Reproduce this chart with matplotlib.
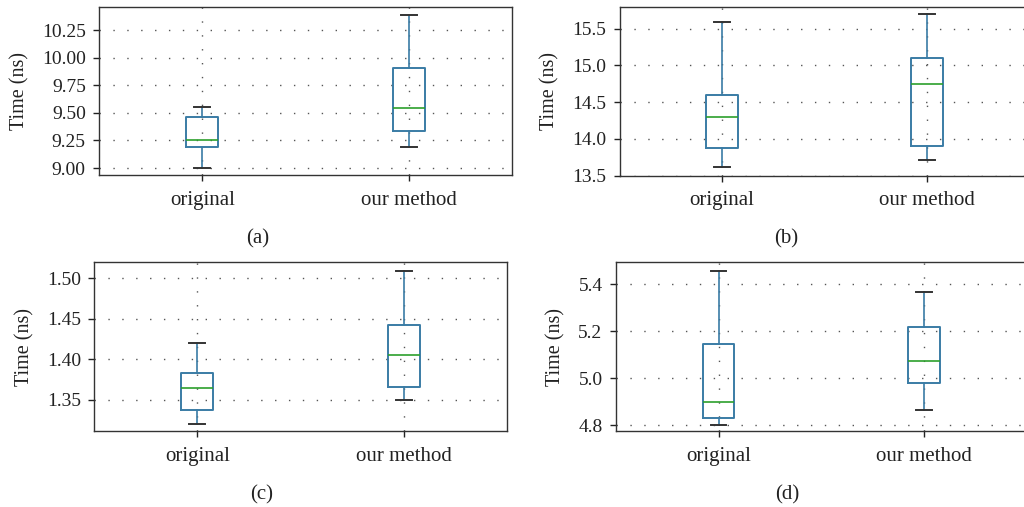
import matplotlib
matplotlib.use("Agg")
import matplotlib.pyplot as plt

plt.rcParams['font.family'] = ['Liberation Serif', 'DejaVu Serif']

categories = ["original", "our method"]
panel_labels = ["(a)", "(b)", "(c)", "(d)"]

# box statistics per panel: [original, our method]
a_whislo = [9.00, 9.19]
a_q1 = [9.193, 9.34]
a_med = [9.256, 9.54]
a_q3 = [9.465, 9.91]
a_whishi = [9.555, 10.39]

b_whislo = [13.61, 13.71]
b_q1 = [13.877, 13.90]
b_med = [14.30, 14.748]
b_q3 = [14.59, 15.10]
b_whishi = [15.595, 15.70]

c_whislo = [1.320, 1.350]
c_q1 = [1.3374, 1.366]
c_med = [1.365, 1.405]
c_q3 = [1.3834, 1.4423]
c_whishi = [1.420, 1.509]

d_whislo = [4.8026, 4.865]
d_q1 = [4.8323, 4.979]
d_med = [4.898, 5.073]
d_q3 = [5.145, 5.217]
d_whishi = [5.457, 5.369]

a_ticks = [9.00, 9.25, 9.50, 9.75, 10.00, 10.25]
b_ticks = [13.5, 14.0, 14.5, 15.0, 15.5]
c_ticks = [1.35, 1.40, 1.45, 1.50]
d_ticks = [4.8, 5.0, 5.2, 5.4]

panels = [
    (a_whislo, a_q1, a_med, a_q3, a_whishi, a_ticks, "{:.2f}", (8.937, 10.46), (99, 512, 7, 175)),
    (b_whislo, b_q1, b_med, b_q3, b_whishi, b_ticks, "{:.1f}", (13.5, 15.795), (619.5, 1030, 7, 175.5)),
    (c_whislo, c_q1, c_med, c_q3, c_whishi, c_ticks, "{:.2f}", (1.3113, 1.5198), (94.3, 506.7, 262.3, 431)),
    (d_whislo, d_q1, d_med, d_q3, d_whishi, d_ticks, "{:.1f}", (4.7757, 5.4936), (615.7, 1027, 262.3, 431)),
]
label_pos = [(258, 239), (786, 239), (262, 495), (787, 495)]

W, H = 1024, 507
fig = plt.figure(figsize=(W / 100, H / 100), dpi=100)

blue = "#3a7ca5"
txt = "#222222"
for (wlo, q1, med, q3, whi, ticks, fmt, ylim, box), lab, (lx, ly) in zip(panels, panel_labels, label_pos):
    l, r, t, b = box
    ax = fig.add_axes([l / W, 1 - b / H, (r - l) / W, (b - t) / H])
    stats = []
    for i, name in enumerate(categories):
        stats.append(dict(label=name, whislo=wlo[i], q1=q1[i], med=med[i],
                          q3=q3[i], whishi=whi[i], fliers=[]))
    ax.bxp(stats, positions=[1, 2], widths=0.155, showfliers=False,
           boxprops=dict(color=blue, linewidth=1.4),
           whiskerprops=dict(color=blue, linewidth=1.2),
           capprops=dict(color="#333333", linewidth=1.4),
           medianprops=dict(color="#2ca02c", linewidth=1.2))
    ax.set_xlim(0.5, 2.5)
    ax.set_ylim(*ylim)
    ax.set_yticks(ticks)
    ax.set_yticklabels([fmt.format(v) for v in ticks])
    ax.set_xticks([1, 2])
    ax.set_xticklabels(categories)
    ax.grid(True, color="#555555", linestyle=(0, (1, 9)), linewidth=1.0)
    ax.set_axisbelow(True)
    ax.tick_params(axis="y", labelsize=14, colors=txt, length=4, width=1, pad=5.5)
    ax.tick_params(axis="x", labelsize=15, colors=txt, length=4, width=1, pad=7.5)
    ax.set_ylabel("Time (ns)", fontsize=14.5, color=txt, labelpad=9)
    for s in ax.spines.values():
        s.set_color("#333333")
        s.set_linewidth(1.0)
    fig.text(lx / W, 1 - ly / H, lab, ha="center", va="center", fontsize=15, color=txt)

fig.savefig("out.png", dpi=100)
